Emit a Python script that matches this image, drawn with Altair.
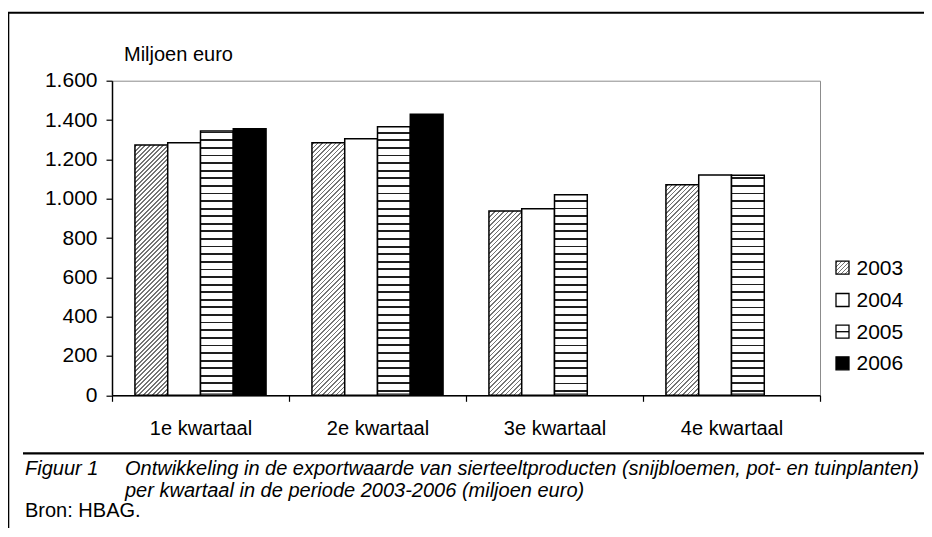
import altair as alt
import pandas as pd

# ---------------- data ----------------
quarters = ["1e kwartaal", "2e kwartaal", "3e kwartaal", "4e kwartaal"]
years = ["2003", "2004", "2005", "2006"]
v2003 = [1273, 1285, 937, 1071]
v2004 = [1285, 1305, 949, 1120]
v2005 = [1344, 1366, 1020, 1119]
v2006 = [1356, 1429, None, None]
y_ticks = [0, 200, 400, 600, 800, 1000, 1200, 1400, 1600]
y_title = "Miljoen euro"
caption_fig = "Figuur 1"
caption_l1 = "Ontwikkeling in de exportwaarde van sierteeltproducten (snijbloemen, pot- en tuinplanten)"
caption_l2 = "per kwartaal in de periode 2003-2006 (miljoen euro)"
source = "Bron: HBAG."

rows = []
for yr, vals in zip(years, [v2003, v2004, v2005, v2006]):
    for q, v in zip(quarters, vals):
        if v is not None:
            rows.append({"kwartaal": q, "jaar": yr, "waarde": v})
df = pd.DataFrame(rows)

# ---------------- geometry / style ----------------
W, H = 708, 314.6
YMAX = 1600
OUTER = 0.70
BAR_W = (W / 4) / (4 + 2 * OUTER)
FONT = "Liberation Sans"


def r5(x):
    return round(min(max(x, 0.0), 1.0), 5)


def diag_grad(w, h, period=4.5, lw=1.6, color="#747474", bg="white"):
    denom = w * w + h * h
    sc = w / denom
    tmax = (w + h) * sc
    stops = [{"offset": 0, "color": bg}]
    s = 1.0
    while s * sc < min(tmax, 1.0):
        a, b = r5(s * sc), r5((s + lw) * sc)
        stops += [{"offset": a, "color": bg}, {"offset": a, "color": color},
                  {"offset": b, "color": color}, {"offset": b, "color": bg}]
        s += period
    return {"gradient": "linear", "x1": 0, "y1": 0, "x2": 1, "y2": h / w, "stops": stops}


def hstripe_grad(h, period=7.6, first=4.3, lw=1.8, color="#1e1e1e", bg="white"):
    stops = [{"offset": 0, "color": "#8a8a8a"}, {"offset": r5(2.0 / h), "color": "#8a8a8a"},
             {"offset": r5(2.0 / h), "color": bg}]
    d = first
    while d - lw / 2 < h:
        a, b = r5((d - lw / 2) / h), r5((d + lw / 2) / h)
        stops += [{"offset": a, "color": bg}, {"offset": a, "color": color},
                  {"offset": b, "color": color}, {"offset": b, "color": bg}]
        d += period
    return {"gradient": "linear", "x1": 0, "y1": 1, "x2": 0, "y2": 0, "stops": stops}


x_enc = alt.X("kwartaal:N",
              scale=alt.Scale(domain=quarters, paddingInner=0, paddingOuter=0),
              axis=alt.Axis(title=None, tickBand="extent", tickSize=6, labelAngle=0,
                            labelFont=FONT, labelFontSize=20, labelColor="black",
                            labelPadding=17, domainColor="black", domainWidth=1.5,
                            tickColor="black", tickWidth=1.2))
xo_enc = alt.XOffset("jaar:N", scale=alt.Scale(domain=years, paddingInner=0, paddingOuter=OUTER))
y_enc = alt.Y("waarde:Q",
              scale=alt.Scale(domain=[0, YMAX], nice=False),
              axis=alt.Axis(title=None, values=y_ticks, grid=False, tickSize=6,
                            labelExpr="replace(format(datum.value, ',d'), ',', '.')",
                            labelFont=FONT, labelFontSize=21, labelColor="black",
                            labelPadding=9, domainColor="black", domainWidth=1.5,
                            tickColor="black", tickWidth=1.2))

base = alt.Chart(df).encode(x=x_enc, xOffset=xo_enc, y=y_enc)
STROKE = dict(stroke="black", strokeWidth=1.5)

layers = []
for q, v in zip(quarters, v2003):
    h = v / YMAX * H
    layers.append(base.transform_filter((alt.datum.kwartaal == q) & (alt.datum.jaar == "2003"))
                  .mark_bar(fill=diag_grad(BAR_W, h), **STROKE))
layers.append(base.transform_filter(alt.datum.jaar == "2004").mark_bar(fill="white", **STROKE))
for q, v in zip(quarters, v2005):
    h = v / YMAX * H
    layers.append(base.transform_filter((alt.datum.kwartaal == q) & (alt.datum.jaar == "2005"))
                  .mark_bar(fill=hstripe_grad(h), **STROKE))
layers.append(base.transform_filter(alt.datum.jaar == "2006").mark_bar(fill="black", **STROKE))

one = alt.Data(values=[{"a": 1}])


def text(t, x, y, size=20, italic=False, align="left", baseline="alphabetic"):
    return alt.Chart(one).mark_text(text=t, font=FONT, fontSize=size, align=align,
                                    baseline=baseline, color="black",
                                    fontStyle="italic" if italic else "normal"
                                    ).encode(x=alt.value(x), y=alt.value(y))


def hrule(x1, x2, y, w=2, color="black"):
    return alt.Chart(one).mark_rule(color=color, strokeWidth=w).encode(
        x=alt.value(x1), x2=alt.value(x2), y=alt.value(y))


def vrule(x, y1, y2, w=2, color="black"):
    return alt.Chart(one).mark_rule(color=color, strokeWidth=w).encode(
        x=alt.value(x), y=alt.value(y1), y2=alt.value(y2))


# y title
layers.append(text(y_title, 12, -20))

# legend
leg_y = [187, 219.3, 251, 282.6]
sym_fill = [diag_grad(13, 13, period=4.0, lw=1.6), "white", "white", "black"]
for yr, cy, f in zip(years, leg_y, sym_fill):
    layers.append(alt.Chart(one).mark_rect(fill=f, stroke="black", strokeWidth=1.3).encode(
        x=alt.value(724), x2=alt.value(737), y=alt.value(cy - 6.5), y2=alt.value(cy + 6.5)))
    if yr == "2005":
        layers.append(hrule(724, 737, cy, w=1.3))
    layers.append(text(yr, 744.5, cy + 1, size=21, baseline="middle"))

# frame + caption rule
layers.append(hrule(-104, 812, -68, w=2))
layers.append(vrule(-103.7, -68, 450, w=2))
layers.append(hrule(-89, 812, 372.6, w=2.3))

# caption
layers.append(text(caption_fig, -87, 394.3, italic=True))
layers.append(text(caption_l1, 13, 394.3, italic=True))
layers.append(text(caption_l2, 13, 416.6, italic=True))
layers.append(text(source, -87, 436))

chart = alt.layer(*layers).properties(
    width=W, height=H,
    autosize=alt.AutoSizeParams(type="none"),
    padding={"left": 104, "top": 72.7, "right": 104, "bottom": 132.7},
).configure_view(stroke="#8c8c8c", strokeWidth=1)

chart.save("out.html", embed_options={"renderer": "svg", "actions": False})
